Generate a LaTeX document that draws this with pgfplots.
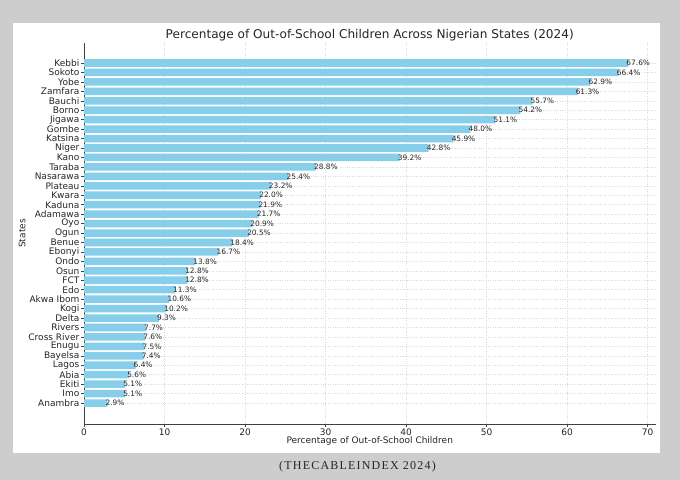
\documentclass[border=0pt]{standalone}
\usepackage{pgfplots}
\pgfplotsset{compat=1.18}
\usepackage{fontspec}
\setmainfont{DejaVu Sans}
\newfontfamily\srcfont[LetterSpace=10]{Liberation Serif}
\definecolor{barblue}{HTML}{87CEEB}
\definecolor{bggray}{HTML}{CDCDCD}
\definecolor{txt}{HTML}{262626}
\definecolor{spine}{HTML}{404040}

\begin{document}
\begin{tikzpicture}
\fill[bggray] (0bp,0bp) rectangle (680bp,480bp);
\fill[white] (13bp,27bp) rectangle (660bp,457bp);
\begin{axis}[
  at={(84bp,56bp)}, anchor=south west,
  scale only axis, width=571.5bp, height=381bp,
  xbar, bar width=0.8, bar shift=0pt,
  y dir=reverse,
  xmin=0, xmax=70.98, ymin=-2.12, ymax=38.22,
  axis x line*=bottom, axis y line*=left,
  axis line style={-, draw=spine, line width=0.9pt},
  tick align=outside, major tick length=3bp,
  tick style={draw=spine, line width=0.6pt},
  xtick={0,10,...,70},
  ytick={0,...,36},
  yticklabels={Kebbi,Sokoto,Yobe,Zamfara,Bauchi,Borno,Jigawa,Gombe,Katsina,Niger,Kano,Taraba,Nasarawa,Plateau,Kwara,Kaduna,Adamawa,Oyo,Ogun,Benue,Ebonyi,Ondo,Osun,FCT,Edo,Akwa Ibom,Kogi,Delta,Rivers,Cross River,Enugu,Bayelsa,Lagos,Abia,Ekiti,Imo,Anambra},
  /pgf/number format/assume math mode=true,
  ticklabel style={font=\fontsize{9bp}{10bp}\selectfont, text=txt},
  yticklabel style={inner sep=1.5bp},
  xticklabel style={inner sep=1.5bp},
  grid=major,
  major grid style={dotted, draw=gray!30, line width=0.5pt},
  nodes near coords={\pgfmathprintnumber[fixed,fixed zerofill,precision=1]{\pgfplotspointmeta}\%},
  nodes near coords style={anchor=west, inner sep=0pt, xshift=-2bp, font=\fontsize{7.4bp}{8bp}\selectfont, text=txt},
  clip=false,
]
\addplot[fill=barblue, draw=none] coordinates {
(67.6,0) (66.4,1) (62.9,2) (61.3,3) (55.7,4) (54.2,5) (51.1,6) (48.0,7) (45.9,8) (42.8,9)
(39.2,10) (28.8,11) (25.4,12) (23.2,13) (22.0,14) (21.9,15) (21.7,16) (20.9,17) (20.5,18) (18.4,19)
(16.7,20) (13.8,21) (12.8,22) (12.8,23) (11.3,24) (10.6,25) (10.2,26) (9.3,27) (7.7,28) (7.6,29)
(7.5,30) (7.4,31) (6.4,32) (5.6,33) (5.1,34) (5.1,35) (2.9,36)
};
\end{axis}
\node[text=txt, font=\fontsize{12.1bp}{14bp}\selectfont] at (369.75bp,445bp) {Percentage of Out-of-School Children Across Nigerian States (2024)};
\node[text=txt, font=\fontsize{9bp}{10bp}\selectfont] at (369.75bp,39bp) {Percentage of Out-of-School Children};
\node[text=txt, rotate=90, font=\fontsize{9bp}{10bp}\selectfont] at (22bp,246.5bp) {States};
\node[text=txt, font=\srcfont\fontsize{12bp}{13bp}\selectfont] at (357.5bp,13.5bp) {(THECABLEINDEX 2024)};
\end{tikzpicture}
\end{document}
